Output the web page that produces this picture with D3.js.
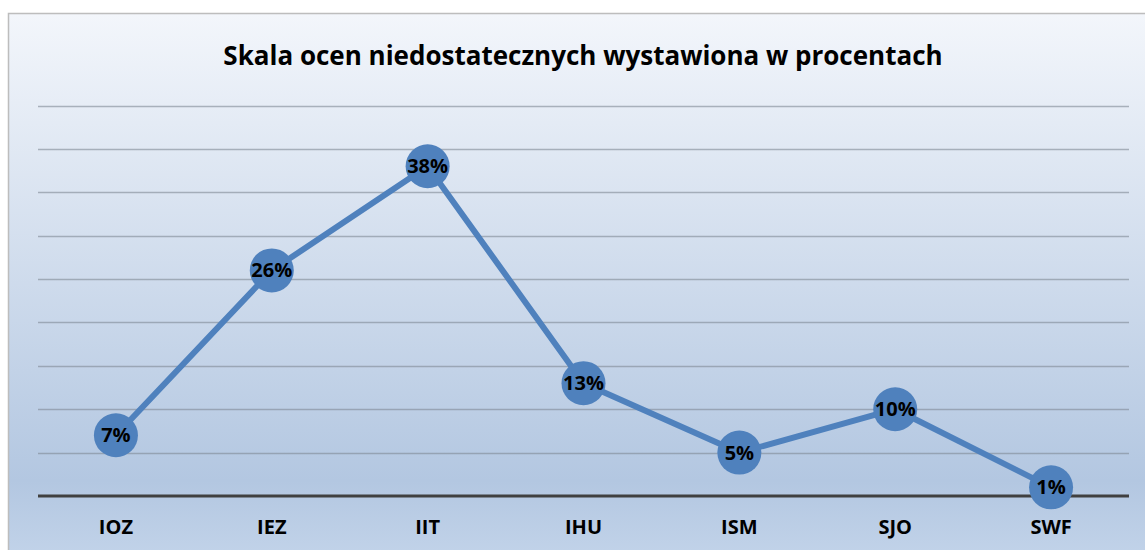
<!DOCTYPE html>
<html>
<head>
<meta charset="utf-8">
<script src="https://cdn.jsdelivr.net/npm/d3@7"></script>
<style>
  html, body { margin: 0; padding: 0; background: #fff; }
  svg { display: block; }
</style>
</head>
<body>
<div id="chart"></div>
<script>
// --- Data ---
const categories = ["IOZ", "IEZ", "IIT", "IHU", "ISM", "SJO", "SWF"];
const values = [7, 26, 38, 13, 5, 10, 1];
const yTicks = [0, 5, 10, 15, 20, 25, 30, 35, 40, 45];
const title = "Skala ocen niedostatecznych wystawiona w procentach";

// --- Dimensions ---
const W = 1145, H = 550;
const plot = { left: 38, right: 1129, top: 105.5, bottom: 496 };
const font = "'Open Sans', 'Liberation Sans', sans-serif";

const svg = d3.select("#chart").append("svg")
  .attr("width", W).attr("height", H);

// background gradient
const defs = svg.append("defs");
const grad = defs.append("linearGradient")
  .attr("id", "bg").attr("x1", 0).attr("y1", 0).attr("x2", 0).attr("y2", 1);
grad.append("stop").attr("offset", "0%").attr("stop-color", "#f3f6fb");
grad.append("stop").attr("offset", "85%").attr("stop-color", "#b3c7e1");
grad.append("stop").attr("offset", "100%").attr("stop-color", "#c3d4ea");

svg.append("rect")
  .attr("x", 8.5).attr("y", 13.5)
  .attr("width", W).attr("height", H)
  .attr("fill", "url(#bg)")
  .attr("stroke", "#bdbdbd").attr("stroke-width", 1.5);

// --- Scales ---
const x = d3.scaleBand()
  .domain(categories)
  .range([plot.left, plot.right]);

const y = d3.scaleLinear()
  .domain([0, 45])
  .range([plot.bottom, plot.top]);

// gridlines
svg.append("g")
  .selectAll("line")
  .data(yTicks.filter(d => d > 0))
  .join("line")
  .attr("x1", plot.left).attr("x2", plot.right)
  .attr("y1", d => Math.round(y(d)) + 0.5).attr("y2", d => Math.round(y(d)) + 0.5)
  .attr("stroke", "#7f8894").attr("stroke-opacity", 0.6).attr("stroke-width", 1.3);

// baseline
svg.append("line")
  .attr("x1", plot.left).attr("x2", plot.right)
  .attr("y1", y(0)).attr("y2", y(0))
  .attr("stroke", "#404040").attr("stroke-width", 3);

// x axis labels
svg.append("g")
  .selectAll("text")
  .data(categories)
  .join("text")
  .attr("x", d => x(d) + x.bandwidth() / 2)
  .attr("y", 534)
  .attr("text-anchor", "middle")
  .style("font-family", font)
  .style("font-weight", "bold")
  .style("font-size", "20px")
  .attr("fill", "#000")
  .text(d => d);

// title
svg.append("text")
  .attr("x", 583).attr("y", 65)
  .attr("text-anchor", "middle")
  .style("font-family", font)
  .style("font-weight", "bold")
  .style("font-size", "26px")
  .attr("fill", "#000")
  .text(title);

const pts = categories.map((c, i) => ({ c, v: values[i] }));
const cx = d => x(d.c) + x.bandwidth() / 2;

// line
svg.append("path")
  .datum(pts)
  .attr("fill", "none")
  .attr("stroke", "#4f81bd")
  .attr("stroke-width", 6)
  .attr("stroke-linejoin", "round")
  .attr("d", d3.line().x(cx).y(d => y(d.v)));

// markers
svg.append("g")
  .selectAll("circle")
  .data(pts)
  .join("circle")
  .attr("cx", cx)
  .attr("cy", d => y(d.v))
  .attr("r", 22)
  .attr("fill", "#4f81bd");

// labels
svg.append("g")
  .selectAll("text")
  .data(pts)
  .join("text")
  .attr("x", cx)
  .attr("y", d => y(d.v) + 7)
  .attr("text-anchor", "middle")
  .style("font-family", font)
  .style("font-weight", "bold")
  .style("font-size", "20px")
  .attr("fill", "#000")
  .text(d => d.v + "%");
</script>
</body>
</html>
